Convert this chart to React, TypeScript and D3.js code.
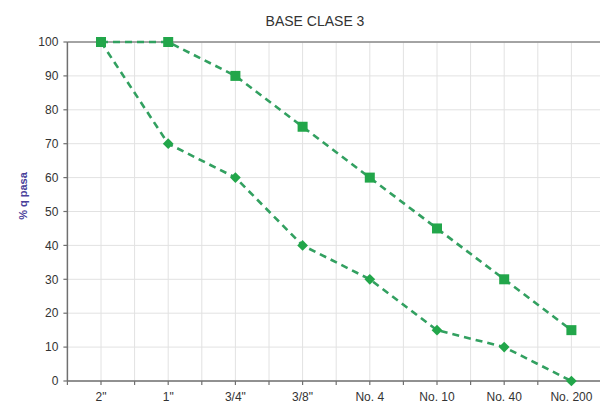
import React from "react";
import * as d3 from "d3";

const categories = ['2"', '1"', '3/4"', '3/8"', "No. 4", "No. 10", "No. 40", "No. 200"];
const upperValues = [100, 100, 90, 75, 60, 45, 30, 15];
const lowerValues = [100, 70, 60, 40, 30, 15, 10, 0];
const yTicks = [0, 10, 20, 30, 40, 50, 60, 70, 80, 90, 100];
const title = "BASE CLASE 3";
const yLabel = "% q pasa";

const W = 600;
const H = 408;
const left = 67.4;
const bandW = 67.2;
const top = 42;
const bottom = 381;

export default function App() {
  const x = d3
    .scaleBand<string>()
    .domain(categories)
    .range([left, left + bandW * categories.length])
    .paddingInner(0)
    .paddingOuter(0);
  const y = d3.scaleLinear().domain([0, 100]).range([bottom, top]);
  const cx = (c: string) => (x(c) ?? 0) + x.bandwidth() / 2;
  const right = left + bandW * categories.length;

  const halfTicks: number[] = [];
  for (let i = 0; i <= categories.length * 2; i++) halfTicks.push(left + (i * bandW) / 2);

  const line = d3
    .line<number>()
    .x((_, i) => cx(categories[i]))
    .y((d) => y(d));

  const green = "#22a64a";
  const lineGreen = "#32a060";

  return (
    <svg
      width={W}
      height={H}
      style={{ position: "absolute", left: 0, top: 0, fontFamily: "Liberation Sans, Arial, sans-serif" }}
    >
      <rect x={0} y={0} width={W} height={H} fill="#fff" />
      {/* grid */}
      {yTicks.map((t) => (
        <line key={"hy" + t} x1={left} x2={right} y1={y(t)} y2={y(t)} stroke="#e2e2e2" strokeWidth={1} />
      ))}
      {halfTicks.slice(1).map((v, i) => (
        <line key={"vx" + i} x1={v} x2={v} y1={top} y2={bottom} stroke="#e2e2e2" strokeWidth={1} />
      ))}
      {/* top border */}
      <line x1={left} x2={right} y1={top} y2={top} stroke="#8a8a8a" strokeWidth={1.5} />
      {/* axes */}
      <line x1={left} x2={left} y1={top} y2={bottom} stroke="#707070" strokeWidth={1.5} />
      <line x1={left} x2={right} y1={bottom} y2={bottom} stroke="#707070" strokeWidth={1.5} />
      {yTicks.map((t) => (
        <g key={"yt" + t}>
          <line x1={left - 4} x2={left} y1={y(t)} y2={y(t)} stroke="#707070" strokeWidth={1.2} />
          <text x={left - 9} y={y(t)} dy="0.35em" textAnchor="end" fontSize={12} fill="#333">
            {t}
          </text>
        </g>
      ))}
      {halfTicks.map((v, i) => (
        <line key={"xt" + i} x1={v} x2={v} y1={bottom} y2={bottom + 4} stroke="#707070" strokeWidth={1.2} />
      ))}
      {categories.map((c) => (
        <text key={"xl" + c} x={cx(c)} y={bottom + 20} textAnchor="middle" fontSize={12} fill="#333">
          {c}
        </text>
      ))}
      {/* title */}
      <text x={315} y={26} textAnchor="middle" fontSize={14} fill="#333">
        {title}
      </text>
      {/* y label */}
      <text
        transform={`translate(27, 196) rotate(-90)`}
        textAnchor="middle"
        fontSize={11}
        fontWeight="bold"
        fill="#4a3f9a"
      >
        {yLabel}
      </text>
      {/* lines */}
      <path d={line(lowerValues) ?? ""} fill="none" stroke={lineGreen} strokeWidth={2.6} strokeDasharray="7,5" />
      <path d={line(upperValues) ?? ""} fill="none" stroke={lineGreen} strokeWidth={2.6} strokeDasharray="7,5" />
      {/* diamond markers */}
      {lowerValues.map((v, i) => (
        <rect
          key={"d" + i}
          x={-3.8}
          y={-3.8}
          width={7.6}
          height={7.6}
          fill={green}
          transform={`translate(${cx(categories[i])}, ${y(v)}) rotate(45)`}
        />
      ))}
      {/* square markers */}
      {upperValues.map((v, i) => (
        <rect key={"s" + i} x={cx(categories[i]) - 5} y={y(v) - 5} width={10} height={10} fill={green} />
      ))}
    </svg>
  );
}
